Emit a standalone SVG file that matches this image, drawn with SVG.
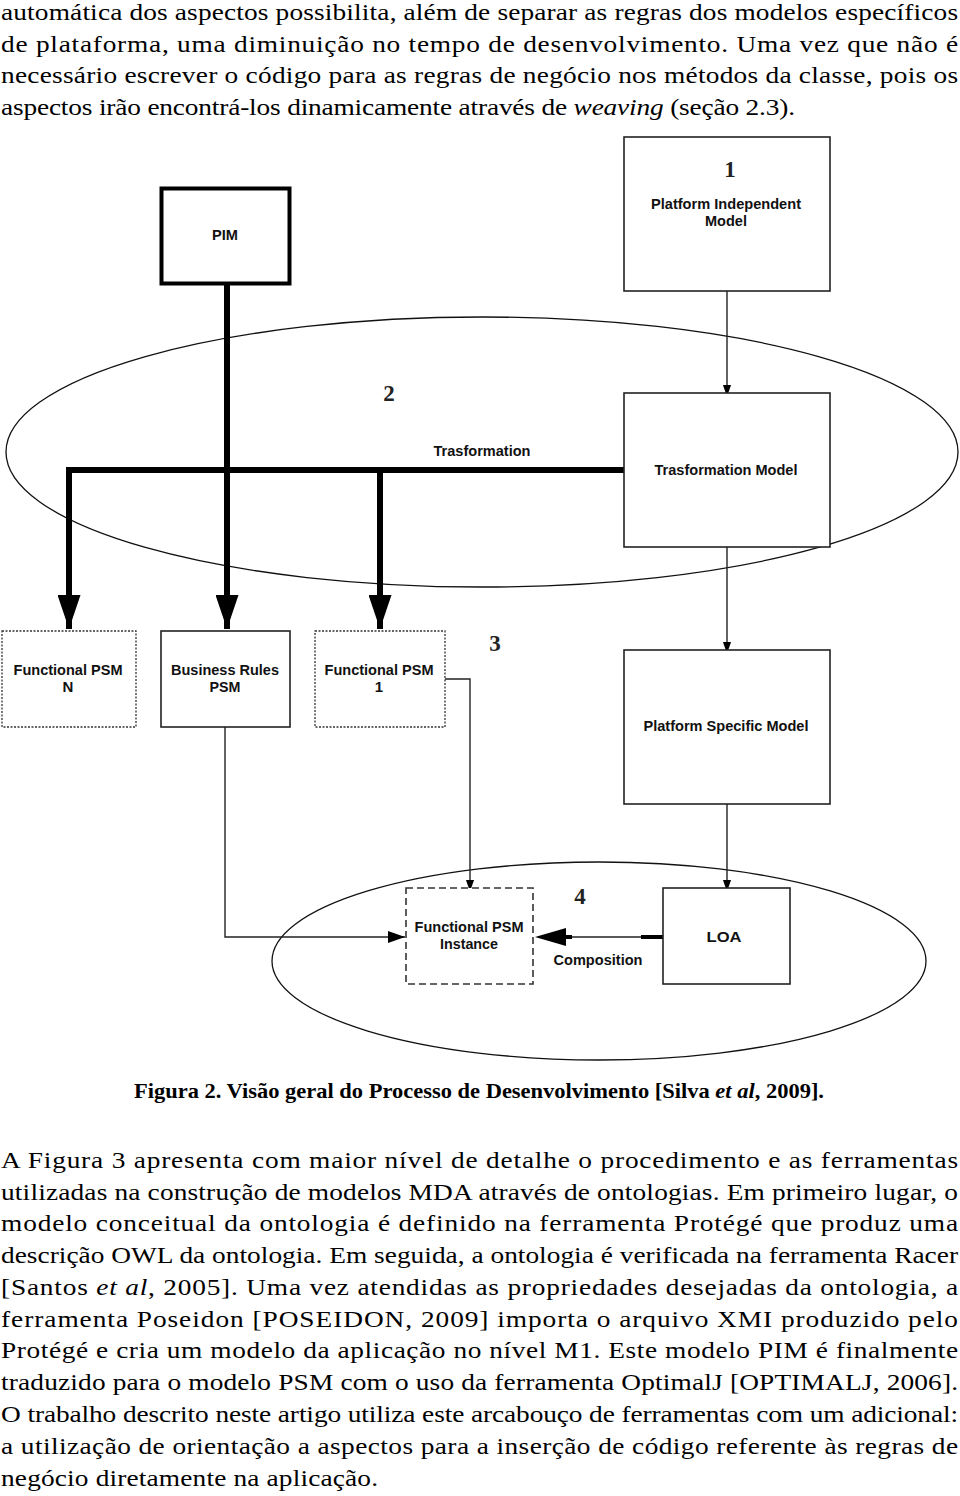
<svg xmlns="http://www.w3.org/2000/svg" width="960" height="1496" viewBox="0 0 960 1496">
<defs>
<style>
.p{font-family:"Liberation Serif","Times New Roman",serif;font-size:24px;fill:#000}
.cap{font-family:"Liberation Serif","Times New Roman",serif;font-size:22px;font-weight:bold;fill:#000}
.lb{font-family:"Liberation Sans",Arial,sans-serif;font-size:15px;font-weight:bold;fill:#111;text-anchor:middle}
.num{font-family:"Liberation Serif","Times New Roman",serif;font-size:23px;font-weight:bold;fill:#222;text-anchor:middle}
.box{fill:#fff;stroke:#222;stroke-width:1.6}
.dot{fill:#fff;stroke:#333;stroke-width:1.3;stroke-dasharray:2 1.5}
.dash{fill:#fff;stroke:#333;stroke-width:1.6;stroke-dasharray:7 4}
.thin{fill:none;stroke:#222;stroke-width:1.4}
.thick{fill:none;stroke:#000;stroke-width:6}
.ell{fill:none;stroke:#111;stroke-width:1.3}
</style>
<marker id="ah" markerWidth="12" markerHeight="17" refX="12" refY="6" orient="auto" markerUnits="userSpaceOnUse" viewBox="0 0 17 12">
<path d="M0,0 L17,6 L0,12 Z" fill="#000"/>
</marker>
<marker id="ahs" markerWidth="17" markerHeight="12" refX="17" refY="6" orient="auto" markerUnits="userSpaceOnUse" viewBox="0 0 17 12">
<path d="M0,0 L17,6 L0,12 Z" fill="#000"/>
</marker>
<marker id="big" markerWidth="34" markerHeight="23" refX="34" refY="11.5" orient="auto" markerUnits="userSpaceOnUse" viewBox="0 0 34 23">
<path d="M0,0 L34,11.5 L0,23 Z" fill="#000"/>
</marker>
</defs>

<g id="text-top" transform="scale(1.14,1)">
<text class="p" x="0.9" y="20" textLength="839.5" lengthAdjust="spacing">automática dos aspectos possibilita, além de separar as regras dos modelos específicos</text>
<text class="p" x="0.9" y="52" textLength="839.5" lengthAdjust="spacing">de plataforma, uma diminuição no tempo de desenvolvimento. Uma vez que não é</text>
<text class="p" x="0.9" y="83" textLength="839.5" lengthAdjust="spacing">necessário escrever o código para as regras de negócio nos métodos da classe, pois os</text>
<text class="p" x="0.9" y="115" textLength="696.5" lengthAdjust="spacing">aspectos irão encontrá-los dinamicamente através de <tspan font-style="italic">weaving</tspan> (seção 2.3).</text>
</g>

<g id="ellipses">
<ellipse class="ell" cx="482" cy="452" rx="476" ry="135"/>
<ellipse class="ell" cx="599" cy="961" rx="327" ry="99"/>
</g>

<g id="connectors">
<path class="thin" d="M727,291 V393" marker-end="url(#ah)"/>
<path class="thin" d="M727,547 V650" marker-end="url(#ah)"/>
<path class="thin" d="M727,804 V888" marker-end="url(#ah)"/>
<path class="thin" d="M225,727 V937 H405" marker-end="url(#ahs)"/>
<path class="thin" d="M445,679 H470 V888" marker-end="url(#ah)"/>
<path class="thick" d="M227,284 V629" marker-end="url(#big)"/>
<path class="thick" d="M69,470 H625" stroke-linecap="round"/>
<path class="thick" d="M69,467 V629" marker-end="url(#big)"/>
<path class="thick" d="M380,470 V629" marker-end="url(#big)"/>
<path class="thin" d="M663,937 H560"/>
<path d="M535,937 L566,928 L566,946 Z" fill="#000"/>
<path d="M564,937 H572" stroke="#000" stroke-width="4"/>
<path d="M641,937 H663" stroke="#000" stroke-width="4"/>
</g>

<g id="pim">
<rect x="161.5" y="188.5" width="128" height="95" fill="#fff" stroke="#000" stroke-width="4"/>
<text class="lb" x="225" y="240" textLength="26" lengthAdjust="spacingAndGlyphs">PIM</text>
</g>

<g id="pim-model">
<rect class="box" x="624" y="137" width="206" height="154"/>
<text class="num" x="730" y="177">1</text>
<text class="lb" x="726" y="209" textLength="150" lengthAdjust="spacingAndGlyphs">Platform Independent</text>
<text class="lb" x="726" y="226" textLength="42" lengthAdjust="spacingAndGlyphs">Model</text>
</g>

<g id="label-2">
<text class="num" x="389" y="401" font-size="25">2</text>
<text class="lb" x="482" y="456" textLength="97" lengthAdjust="spacingAndGlyphs">Trasformation</text>
</g>

<g id="trasformation-model">
<rect class="box" x="624" y="393" width="206" height="154"/>
<text class="lb" x="726" y="475" textLength="143" lengthAdjust="spacingAndGlyphs">Trasformation Model</text>
</g>

<g id="functional-psm-n">
<rect class="dot" x="2" y="631" width="134" height="96"/>
<text class="lb" x="68" y="675" textLength="109" lengthAdjust="spacingAndGlyphs">Functional PSM</text>
<text class="lb" x="68" y="692">N</text>
</g>

<g id="business-rules-psm">
<rect class="box" x="161" y="631" width="129" height="96"/>
<text class="lb" x="225" y="675" textLength="108" lengthAdjust="spacingAndGlyphs">Business Rules</text>
<text class="lb" x="225" y="692" textLength="31" lengthAdjust="spacingAndGlyphs">PSM</text>
</g>

<g id="functional-psm-1">
<rect class="dot" x="315" y="631" width="130" height="96"/>
<text class="lb" x="379" y="675" textLength="109" lengthAdjust="spacingAndGlyphs">Functional PSM</text>
<text class="lb" x="379" y="692">1</text>
</g>

<g id="label-3">
<text class="num" x="495" y="651">3</text>
</g>

<g id="platform-specific-model">
<rect class="box" x="624" y="650" width="206" height="154"/>
<text class="lb" x="726" y="731" textLength="165" lengthAdjust="spacingAndGlyphs">Platform Specific Model</text>
</g>

<g id="functional-psm-instance">
<rect class="dash" x="406" y="888" width="127" height="96"/>
<text class="lb" x="469" y="932" textLength="109" lengthAdjust="spacingAndGlyphs">Functional PSM</text>
<text class="lb" x="469" y="949" textLength="58" lengthAdjust="spacingAndGlyphs">Instance</text>
</g>

<g id="label-4">
<text class="num" x="580" y="904">4</text>
<text class="lb" x="598" y="965" textLength="89" lengthAdjust="spacingAndGlyphs">Composition</text>
</g>

<g id="loa">
<rect class="box" x="663" y="888" width="127" height="96"/>
<text class="lb" x="724" y="942" textLength="35" lengthAdjust="spacingAndGlyphs">LOA</text>
</g>

<g id="caption">
<text class="cap" x="134" y="1098" textLength="690" lengthAdjust="spacingAndGlyphs">Figura 2. Visão geral do Processo de Desenvolvimento [Silva <tspan font-style="italic">et al</tspan>, 2009].</text>
</g>

<g id="text-bottom" transform="scale(1.14,1)">
<text class="p" x="0.9" y="1168" textLength="839.5" lengthAdjust="spacing">A Figura 3 apresenta com maior nível de detalhe o procedimento e as ferramentas</text>
<text class="p" x="0.9" y="1200" textLength="839.5" lengthAdjust="spacing">utilizadas na construção de modelos MDA através de ontologias. Em primeiro lugar, o</text>
<text class="p" x="0.9" y="1231" textLength="839.5" lengthAdjust="spacing">modelo conceitual da ontologia é definido na ferramenta Protégé que produz uma</text>
<text class="p" x="0.9" y="1263" textLength="839.5" lengthAdjust="spacing">descrição OWL da ontologia. Em seguida, a ontologia é verificada na ferramenta Racer</text>
<text class="p" x="0.9" y="1295" textLength="839.5" lengthAdjust="spacing">[Santos <tspan font-style="italic">et al</tspan>, 2005]. Uma vez atendidas as propriedades desejadas da ontologia, a</text>
<text class="p" x="0.9" y="1327" textLength="839.5" lengthAdjust="spacing">ferramenta Poseidon [POSEIDON, 2009] importa o arquivo XMI produzido pelo</text>
<text class="p" x="0.9" y="1358" textLength="839.5" lengthAdjust="spacing">Protégé e cria um modelo da aplicação no nível M1. Este modelo PIM é finalmente</text>
<text class="p" x="0.9" y="1390" textLength="839.5" lengthAdjust="spacing">traduzido para o modelo PSM com o uso da ferramenta OptimalJ [OPTIMALJ, 2006].</text>
<text class="p" x="0.9" y="1422" textLength="839.5" lengthAdjust="spacing">O trabalho descrito neste artigo utiliza este arcabouço de ferramentas com um adicional:</text>
<text class="p" x="0.9" y="1454" textLength="839.5" lengthAdjust="spacing">a utilização de orientação a aspectos para a inserção de código referente às regras de</text>
<text class="p" x="0.9" y="1486" textLength="330.7" lengthAdjust="spacing">negócio diretamente na aplicação.</text>
</g>
</svg>
